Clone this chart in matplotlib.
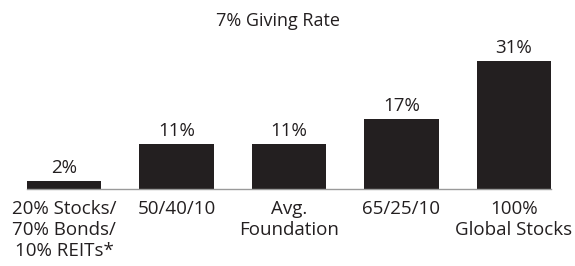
import matplotlib
matplotlib.use("Agg")
import matplotlib.pyplot as plt

categories = ["20% Stocks/\n70% Bonds/\n10% REITs*", "50/40/10", "Avg.\nFoundation",
              "65/25/10", "100%\nGlobal Stocks"]
values = [2, 11, 11, 17, 31]
value_labels = ["2%", "11%", "11%", "17%", "31%"]
title = "7% Giving Rate"

dark = "#231f20"
plt.rcParams["font.family"] = ["Open Sans", "DejaVu Sans"]

fig = plt.figure(figsize=(5.75, 2.66), dpi=100)
ax = fig.add_axes([27 / 575, 77 / 266, 524 / 575, 128 / 266])

x = list(range(len(values)))
bars = ax.bar(x, values, width=0.66, color=dark)
ax.set_xlim(-0.33, 4.33)
ax.set_ylim(0, 31)

for b, lab in zip(bars, value_labels):
    ax.annotate(lab, (b.get_x() + b.get_width() / 2, b.get_height()),
                xytext=(0, 4), textcoords="offset pixels",
                ha="center", va="bottom", fontsize=13.5, color=dark)

ax.set_xticks(x)
ax.set_xticklabels(categories, fontsize=13.5, color=dark, linespacing=1.22)
ax.tick_params(axis="x", length=0, pad=8)
ax.set_yticks([])
for s in ["top", "right", "left"]:
    ax.spines[s].set_visible(False)
ax.spines["bottom"].set_color("#9a9a9a")
ax.spines["bottom"].set_linewidth(1)

fig.text(278 / 575, 1 - 21 / 266, title, ha="center", va="center",
         fontsize=13, color=dark)

fig.savefig("out.png", dpi=100)
